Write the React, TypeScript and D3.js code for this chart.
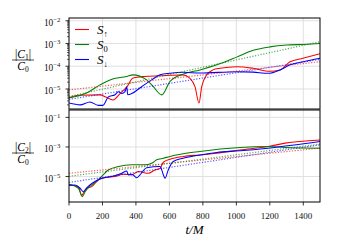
import React, { useEffect, useRef } from 'react';
import * as d3 from 'd3';

// time axis + ticks
const xTicks = [0, 200, 400, 600, 800, 1000, 1200, 1400];
const c1Ticks = [-2, -3, -4, -5];
const c2Ticks = [-1, -3, -5];

// |C1|/C0, top panel
const c1UpT = [0, 55, 185, 220, 263, 305, 347, 382, 454, 544, 604, 681, 723, 753, 777, 793, 823, 861, 902, 1002, 1101, 1201, 1261, 1321, 1398, 1500];
const c1Up = [4.07e-6, 5.25e-6, 5.5e-6, 4.47e-6, 3.31e-6, 6.31e-6, 1.26e-5, 3.02e-5, 3.55e-5, 3.8e-5, 3.98e-5, 4.17e-5, 2.95e-5, 1.26e-5, 2.4e-6, 1.26e-5, 4.17e-5, 6.9e-5, 8.1e-5, 9.5e-5, 8.1e-5, 6.0e-5, 6.9e-5, 1.58e-4, 2.24e-4, 3.55e-4];
const c1ZeroT = [0, 105, 185, 245, 345, 382, 464, 504, 554, 604, 681, 783, 883, 1002, 1101, 1201, 1301, 1400, 1500];
const c1Zero = [4.0e-6, 6.6e-6, 1.51e-5, 2.51e-5, 3.55e-5, 4.17e-5, 2.51e-5, 1.26e-5, 5.5e-6, 2.14e-5, 4.47e-5, 6.9e-5, 1.15e-4, 2.51e-4, 5.0e-4, 7.1e-4, 8.5e-4, 9.1e-4, 1.0e-3];
const c1DownT = [0, 66, 125, 175, 203, 235, 275, 295, 315, 335, 345, 351, 375, 434, 494, 544, 604, 683, 783, 1002, 1101, 1191, 1261, 1321, 1400, 1500];
const c1Down = [2.4e-6, 2.0e-6, 2.7e-6, 1.9e-6, 1.9e-6, 4.47e-6, 5.6e-6, 7.6e-6, 6.3e-6, 7.6e-6, 1.26e-5, 5.6e-6, 6.3e-6, 1.26e-5, 2.51e-5, 4.17e-5, 4.9e-5, 5.4e-5, 5.0e-5, 5.75e-5, 5.5e-5, 4.9e-5, 6.9e-5, 1.15e-4, 1.58e-4, 2.24e-4];

// |C2|/C0, bottom panel
const c2UpT = [0, 56, 76, 85, 106, 136, 175, 215, 275, 324, 375, 414, 474, 514, 544, 564, 604, 683, 783, 883, 1022, 1191, 1291, 1500];
const c2Up = [2.7e-6, 2.1e-6, 5.1e-7, 7.4e-7, 1.62e-6, 2.1e-6, 5.9e-6, 8.5e-6, 1.0e-5, 1.45e-5, 1.29e-5, 2.2e-5, 1.66e-5, 2.8e-5, 3.5e-5, 9.3e-5, 1.48e-4, 2.3e-4, 2.9e-4, 3.8e-4, 6.3e-4, 1.07e-3, 1.82e-3, 3.0e-3];
const c2ZeroT = [0, 56, 80, 96, 136, 175, 235, 295, 375, 454, 494, 524, 564, 604, 783, 1022, 1189, 1291, 1500];
const c2Zero = [3.0e-6, 1.62e-6, 4.4e-7, 9.5e-7, 2.7e-6, 5.9e-6, 2.8e-5, 4.8e-5, 6.2e-5, 6.2e-5, 7.9e-5, 1.35e-4, 1.74e-4, 2.3e-4, 5.0e-4, 9.3e-4, 1.07e-3, 9.3e-4, 8.3e-4];
const c2DownT = [0, 36, 66, 85, 106, 125, 155, 195, 255, 315, 345, 354, 375, 405, 424, 464, 544, 564, 574, 593, 623, 683, 783, 883, 1022, 1189, 1500];
const c2Down = [2.57e-6, 2.7e-6, 1.62e-6, 9.5e-7, 1.74e-6, 2.7e-6, 4.6e-6, 7.6e-6, 1.0e-5, 1.66e-5, 2.4e-5, 1.29e-5, 1.45e-5, 8.3e-6, 1.29e-5, 4.0e-5, 4.8e-5, 1.29e-5, 7.6e-6, 2.8e-5, 1.05e-4, 1.74e-4, 2.9e-4, 4.3e-4, 5.5e-4, 8.3e-4, 2.34e-3];

// exponential fits (dotted)
const fitT = [0, 1500];
const c1UpFit = [9.1e-6, 1.58e-4];
const c1ZeroFit = [4.7e-6, 1.2e-3];
const c1DownFit = [3.5e-6, 2.0e-4];
const c2UpFit = [1.66e-5, 8.3e-4];
const c2ZeroFit = [1.05e-5, 1.58e-3];
const c2DownFit = [4.0e-6, 1.41e-3];

const colors = ['#ff0000', '#008000', '#0000ff'];
const legendSubs = ['\u2191', '0', '\u2193'];

export default function App() {
  const svgRef = useRef<SVGSVGElement>(null);

  useEffect(() => {
    const width = 338;
    const height = 250;
    const svg = d3.select(svgRef.current)
      .attr('width', width)
      .attr('height', height);
    svg.selectAll('*').remove();

    const font = '"Liberation Serif", "DejaVu Serif", serif';
    const x = d3.scaleLinear().domain([0, 1500]).range([69, 320]);
    const yTop = d3.scaleLog().domain([10 ** -5.88, 10 ** -1.88]).range([109, 18]);
    const yBot = d3.scaleLog().domain([10 ** -6.72, 10 ** -0.5]).range([202, 110]);

    const drawPanel = (y: any, lines: [number[], number[]][], fits: number[][], ticks: number[], minor: boolean) => {
      const [y0, y1] = y.range();
      const g = svg.append('g');
      // grid
      g.selectAll('.vg').data(xTicks.slice(1)).join('line').attr('class', 'vg')
        .attr('x1', d => x(d)).attr('x2', d => x(d))
        .attr('y1', y1).attr('y2', y0)
        .attr('stroke', '#dcdcdc').attr('stroke-width', 0.9);
      g.selectAll('.hg').data(ticks).join('line').attr('class', 'hg')
        .attr('x1', 69).attr('x2', 320)
        .attr('y1', d => y(10 ** d)).attr('y2', d => y(10 ** d))
        .attr('stroke', '#dcdcdc').attr('stroke-width', 0.9);

      // clip
      const id = 'clip' + Math.round(y1);
      svg.append('clipPath').attr('id', id).append('rect')
        .attr('x', 69).attr('y', y1).attr('width', 251).attr('height', y0 - y1);

      const line = d3.line<[number, number]>()
        .x(d => x(d[0])).y(d => y(d[1]))
        .curve(d3.curveMonotoneX);
      const pl = g.append('g').attr('clip-path', `url(#${id})`);
      lines.forEach(([ts, vs], i) => {
        pl.append('path')
          .attr('d', line(ts.map((t, k) => [t, vs[k]]) as [number, number][]))
          .attr('fill', 'none').attr('stroke', colors[i]).attr('stroke-width', 1.05);
      });
      fits.forEach((vs, i) => {
        pl.append('path')
          .attr('d', line(fitT.map((t, k) => [t, vs[k]]) as [number, number][]))
          .attr('fill', 'none').attr('stroke', colors[i]).attr('stroke-width', 1.2)
          .attr('stroke-dasharray', '1.2,1.6').attr('opacity', 0.65);
      });

      // minor ticks
      if (minor) {
        const mins: number[] = [];
        for (let e = -6; e <= -2; e++) for (let m = 2; m <= 9; m++) {
          const v = m * 10 ** e;
          if (v >= y.domain()[0] && v <= y.domain()[1]) mins.push(v);
        }
        g.selectAll('.mt').data(mins).join('line').attr('class', 'mt')
          .attr('x1', 69).attr('x2', 67)
          .attr('y1', d => y(d)).attr('y2', d => y(d))
          .attr('stroke', '#000').attr('stroke-width', 0.6);
      }
      // major ticks + labels
      ticks.forEach(e => {
        const yy = y(10 ** e);
        g.append('line').attr('x1', 69).attr('x2', 65.5).attr('y1', yy).attr('y2', yy)
          .attr('stroke', '#000').attr('stroke-width', 0.8);
        const t = g.append('text').attr('x', 60.5).attr('y', yy + 5)
          .attr('text-anchor', 'end').attr('font-family', font).attr('font-size', 9.4).attr('fill', '#111');
        t.append('tspan').text('10');
        t.append('tspan').attr('dy', -4).attr('font-size', 6.8).text(`\u2212${-e}`);
      });

      // frame
      g.append('rect').attr('x', 69).attr('y', y1).attr('width', 251).attr('height', y0 - y1)
        .attr('fill', 'none').attr('stroke', '#000').attr('stroke-width', 1);
    };

    drawPanel(yTop, [[c1UpT, c1Up], [c1ZeroT, c1Zero], [c1DownT, c1Down]], [c1UpFit, c1ZeroFit, c1DownFit], c1Ticks, true);
    drawPanel(yBot, [[c2UpT, c2Up], [c2ZeroT, c2Zero], [c2DownT, c2Down]], [c2UpFit, c2ZeroFit, c2DownFit], c2Ticks, false);

    // x axis ticks
    svg.selectAll('.xt').data(xTicks).join('line').attr('class', 'xt')
      .attr('x1', d => x(d)).attr('x2', d => x(d)).attr('y1', 202).attr('y2', 205.5)
      .attr('stroke', '#000').attr('stroke-width', 0.8);
    svg.selectAll('.xl').data(xTicks).join('text').attr('class', 'xl')
      .attr('x', d => x(d)).attr('y', 218.5).attr('text-anchor', 'middle')
      .attr('font-family', font).attr('font-size', 9).attr('fill', '#111')
      .text(d => d);

    svg.append('text').attr('x', 194.5).attr('y', 234).attr('text-anchor', 'middle')
      .attr('font-family', font).attr('font-size', 13).attr('font-style', 'italic')
      .text('t/M');

    // y labels
    const frac = (cx: number, cy: number, sub: string) => {
      const num = svg.append('text').attr('x', cx).attr('y', cy - 2.5).attr('text-anchor', 'middle')
        .attr('font-family', font).attr('font-size', 11.5);
      num.append('tspan').text('|');
      num.append('tspan').attr('font-style', 'italic').text('C');
      num.append('tspan').attr('font-size', 7.5).attr('dy', 2).text(sub);
      num.append('tspan').attr('dy', -2).text('|');
      svg.append('line').attr('x1', cx - 11).attr('x2', cx + 11).attr('y1', cy).attr('y2', cy)
        .attr('stroke', '#000').attr('stroke-width', 0.7);
      const den = svg.append('text').attr('x', cx).attr('y', cy + 10).attr('text-anchor', 'middle')
        .attr('font-family', font).attr('font-size', 11.5);
      den.append('tspan').attr('font-style', 'italic').text('C');
      den.append('tspan').attr('font-size', 7.5).attr('dy', 2).text('0');
    };
    frac(23, 60, '1');
    frac(23, 153, '2');

    // legend
    const lg = svg.append('g').attr('class', 'legend');
    colors.forEach((c, i) => {
      const ly = 29.5 + i * 15;
      lg.append('line').attr('x1', 75).attr('x2', 89).attr('y1', ly).attr('y2', ly)
        .style('stroke', c).attr('stroke-width', 1.1);
      const t = lg.append('text').attr('x', 97).attr('y', ly + 4.5)
        .attr('font-family', font).attr('font-size', 13);
      t.append('tspan').attr('font-style', 'italic').text('S');
      t.append('tspan').attr('font-size', 8.5).attr('dy', 2.5).text(legendSubs[i]);
    });
  }, []);

  return (
    <svg ref={svgRef} style={{ position: 'absolute', left: 0, top: 0, background: '#fff' }}></svg>
  );
}
